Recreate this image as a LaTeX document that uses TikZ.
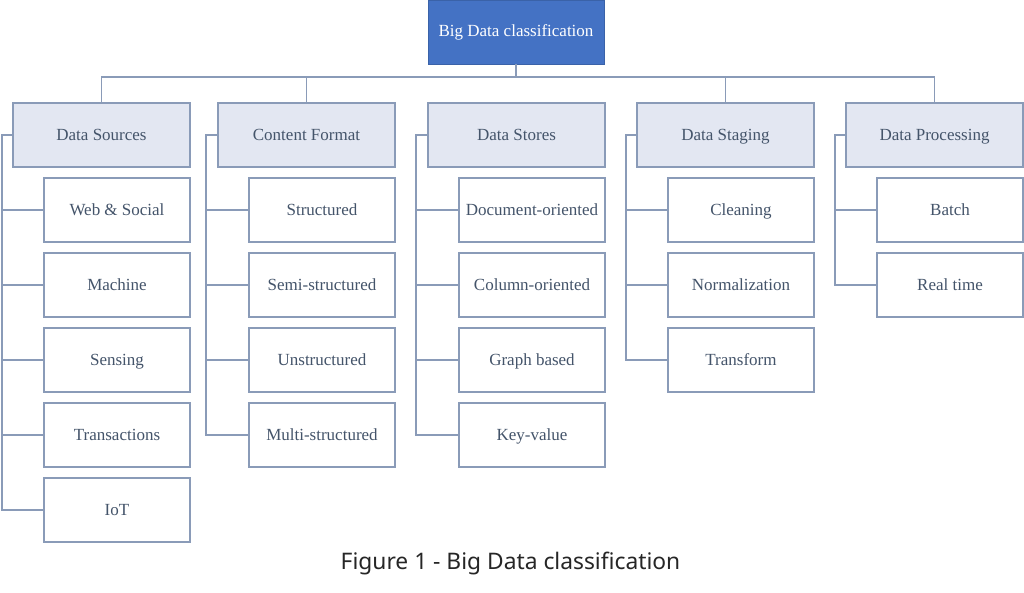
\documentclass[tikz,border=0pt]{standalone}
\usepackage{fontspec}
\setmainfont{Liberation Serif}
\newfontfamily\capfont{Noto Sans}
\usepackage{xcolor}
\usepackage{tikz}

\definecolor{boxline}{HTML}{8A9BB8}
\definecolor{catfill}{HTML}{E3E7F2}
\definecolor{topfill}{HTML}{4472C4}
\definecolor{topline}{HTML}{3A62A8}
\definecolor{txtcol}{HTML}{44546A}

\tikzset{
  topbox/.style={draw=topline, fill=topfill, text=white, line width=0.8pt,
    minimum width=176, minimum height=64, inner sep=0pt},
  catbox/.style={draw=boxline, fill=catfill, text=txtcol, line width=1.2pt,
    minimum width=177, minimum height=64, inner sep=0pt,
    text height=13pt, text depth=2pt},
  itembox/.style={draw=boxline, fill=white, text=txtcol, line width=1.2pt,
    minimum width=146, minimum height=64, inner sep=0pt,
    text height=13pt, text depth=2pt},
  link/.style={draw=boxline, line width=1.2pt}
}

\begin{document}
\begin{tikzpicture}[x=1pt, y=-1pt, font=\fontsize{17}{20}\selectfont]
  \useasboundingbox (0,0) rectangle (1024,592);
  % top
  \node[topbox] (top) at (516,32) {Big Data classification};
  % categories
  \node[catbox] (src) at (101.5,135) {Data Sources};
  \node[catbox] (fmt) at (306.5,135) {Content Format};
  \node[catbox] (sto) at (516.5,135) {Data Stores};
  \node[catbox] (stg) at (725.5,135) {Data Staging};
  \node[catbox] (pro) at (934.5,135) {Data Processing};
  % data sources
  \node[itembox] (src1) at (117,210) {Web \& Social};
  \node[itembox] (src2) at (117,285) {Machine};
  \node[itembox] (src3) at (117,360) {Sensing};
  \node[itembox] (src4) at (117,435) {Transactions};
  \node[itembox] (src5) at (117,510) {IoT};
  % content format
  \node[itembox] (fmt1) at (322,210) {Structured};
  \node[itembox] (fmt2) at (322,285) {Semi-structured};
  \node[itembox] (fmt3) at (322,360) {Unstructured};
  \node[itembox] (fmt4) at (322,435) {Multi-structured};
  % data stores
  \node[itembox] (sto1) at (532,210) {Document-oriented};
  \node[itembox] (sto2) at (532,285) {Column-oriented};
  \node[itembox] (sto3) at (532,360) {Graph based};
  \node[itembox] (sto4) at (532,435) {Key-value};
  % data staging
  \node[itembox] (stg1) at (741,210) {Cleaning};
  \node[itembox] (stg2) at (741,285) {Normalization};
  \node[itembox] (stg3) at (741,360) {Transform};
  % data processing
  \node[itembox] (pro1) at (950,210) {Batch};
  \node[itembox] (pro2) at (950,285) {Real time};

  % bus
  \coordinate (bus) at (516,77);
  \draw[link] (top.south) -- (bus);
  \draw[link] (src.north) |- (bus) -| (pro.north);
  \draw[link] (fmt.north) -- (fmt.north |- bus);
  \draw[link] (stg.north) -- (stg.north |- bus);

  % brackets
  \coordinate (srcx) at (2,135);
  \coordinate (fmtx) at (206,135);
  \coordinate (stox) at (416,135);
  \coordinate (stgx) at (626,135);
  \coordinate (prox) at (835,135);
  \draw[link] (src.west) -- (srcx) |- (src5.west);
  \draw[link] (src1.west) -- (src1.west -| srcx);
  \draw[link] (src2.west) -- (src2.west -| srcx);
  \draw[link] (src3.west) -- (src3.west -| srcx);
  \draw[link] (src4.west) -- (src4.west -| srcx);
  \draw[link] (fmt.west) -- (fmtx) |- (fmt4.west);
  \draw[link] (fmt1.west) -- (fmt1.west -| fmtx);
  \draw[link] (fmt2.west) -- (fmt2.west -| fmtx);
  \draw[link] (fmt3.west) -- (fmt3.west -| fmtx);
  \draw[link] (sto.west) -- (stox) |- (sto4.west);
  \draw[link] (sto1.west) -- (sto1.west -| stox);
  \draw[link] (sto2.west) -- (sto2.west -| stox);
  \draw[link] (sto3.west) -- (sto3.west -| stox);
  \draw[link] (stg.west) -- (stgx) |- (stg3.west);
  \draw[link] (stg1.west) -- (stg1.west -| stgx);
  \draw[link] (stg2.west) -- (stg2.west -| stgx);
  \draw[link] (pro.west) -- (prox) |- (pro2.west);
  \draw[link] (pro1.west) -- (pro1.west -| prox);

  % caption
  \node[text=black!85, font=\capfont\fontsize{22.8}{26}\selectfont] (cap) at (510.5,564) {Figure 1 - Big Data classification};
\end{tikzpicture}
\end{document}
